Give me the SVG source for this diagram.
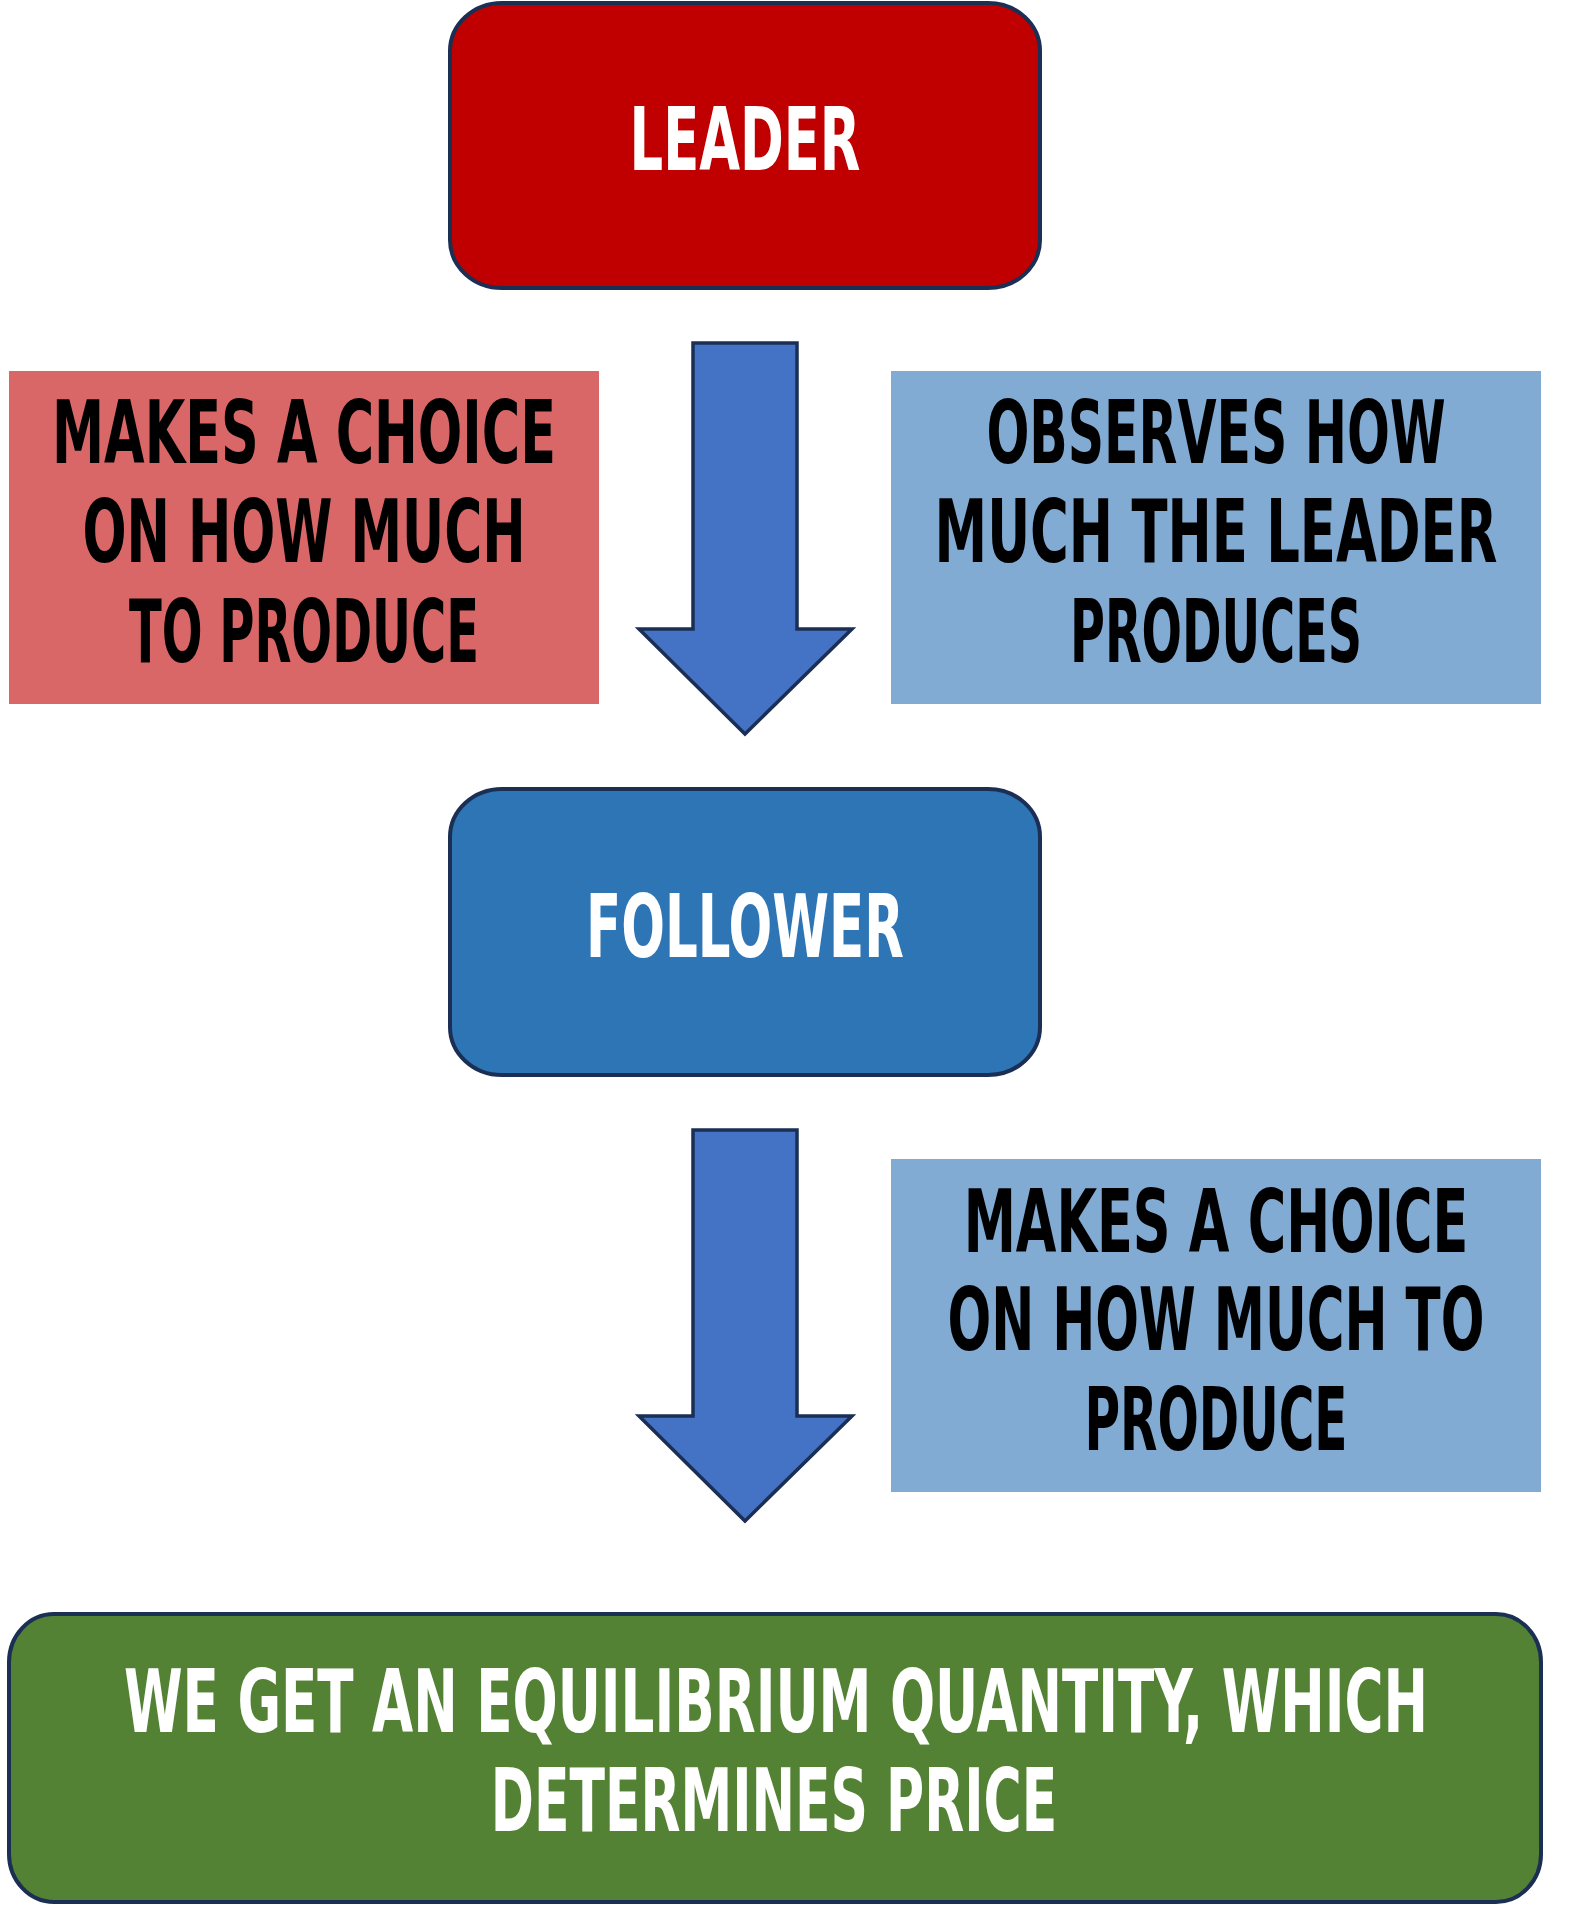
<svg xmlns="http://www.w3.org/2000/svg" width="1569" height="1905" viewBox="0 0 1569 1905">
  <style>
    .lbl { font-family: "Liberation Sans Narrow", "DejaVu Sans Condensed", "Liberation Sans", sans-serif; font-weight: bold; font-size: 87px; text-anchor: middle; }
    .light { fill: #ffffff; }
    .dark { fill: #000000; }
    .node { stroke: #1b2f55; stroke-width: 4; }
    .arrow { fill: #4472c4; stroke: #1b2f55; stroke-width: 3.5; stroke-linejoin: miter; }
  </style>
  <rect width="1569" height="1905" fill="#ffffff"/>

  <!-- labels use a narrowed glyph box: each group is centred on its box and squeezed to 70% width -->
  <g id="leader">
    <rect class="node" x="450" y="3" width="590" height="285" rx="52" ry="48" fill="#c00000"/>
    <g transform="translate(745 0) scale(0.7 1)">
      <text class="lbl light" x="0" y="170" textLength="330" lengthAdjust="spacingAndGlyphs">LEADER</text>
    </g>
  </g>

  <g id="leader-choice">
    <rect x="9" y="371" width="590" height="333" fill="#d96767"/>
    <g transform="translate(304 0) scale(0.7 1)">
      <text class="lbl dark" x="0" y="463" textLength="720" lengthAdjust="spacingAndGlyphs">MAKES A CHOICE</text>
      <text class="lbl dark" x="0" y="562" textLength="633" lengthAdjust="spacingAndGlyphs">ON HOW MUCH</text>
      <text class="lbl dark" x="0" y="662" textLength="500" lengthAdjust="spacingAndGlyphs">TO PRODUCE</text>
    </g>
  </g>

  <g id="follower-observes">
    <rect x="891" y="371" width="650" height="333" fill="#82abd4"/>
    <g transform="translate(1216 0) scale(0.7 1)">
      <text class="lbl dark" x="0" y="463" textLength="656" lengthAdjust="spacingAndGlyphs">OBSERVES HOW</text>
      <text class="lbl dark" x="0" y="562" textLength="804" lengthAdjust="spacingAndGlyphs">MUCH THE LEADER</text>
      <text class="lbl dark" x="0" y="662" textLength="417" lengthAdjust="spacingAndGlyphs">PRODUCES</text>
    </g>
  </g>

  <g id="follower">
    <rect class="node" x="450" y="789" width="590" height="286" rx="52" ry="48" fill="#2e75b6"/>
    <g transform="translate(745 0) scale(0.7 1)">
      <text class="lbl light" x="0" y="957" textLength="454" lengthAdjust="spacingAndGlyphs">FOLLOWER</text>
    </g>
  </g>

  <g id="follower-choice">
    <rect x="891" y="1159" width="650" height="333" fill="#82abd4"/>
    <g transform="translate(1216 0) scale(0.7 1)">
      <text class="lbl dark" x="0" y="1252" textLength="721" lengthAdjust="spacingAndGlyphs">MAKES A CHOICE</text>
      <text class="lbl dark" x="0" y="1350" textLength="767" lengthAdjust="spacingAndGlyphs">ON HOW MUCH TO</text>
      <text class="lbl dark" x="0" y="1450" textLength="376" lengthAdjust="spacingAndGlyphs">PRODUCE</text>
    </g>
  </g>

  <g id="equilibrium">
    <rect class="node" x="9" y="1614" width="1532" height="288" rx="45" ry="48" fill="#548235"/>
    <g transform="translate(776 0) scale(0.7 1)">
      <text class="lbl light" x="0" y="1732" textLength="1863" lengthAdjust="spacingAndGlyphs">WE GET AN EQUILIBRIUM QUANTITY, WHICH</text>
    </g>
    <g transform="translate(774 0) scale(0.7 1)">
      <text class="lbl light" x="0" y="1831" textLength="809" lengthAdjust="spacingAndGlyphs">DETERMINES PRICE</text>
    </g>
  </g>

  <g id="connectors">
    <polygon class="arrow" points="693,343 797,343 797,629 852,629 745,734 639,629 693,629"/>
    <polygon class="arrow" points="693,1130 797,1130 797,1416 852,1416 745,1521 639,1416 693,1416"/>
  </g>
</svg>
